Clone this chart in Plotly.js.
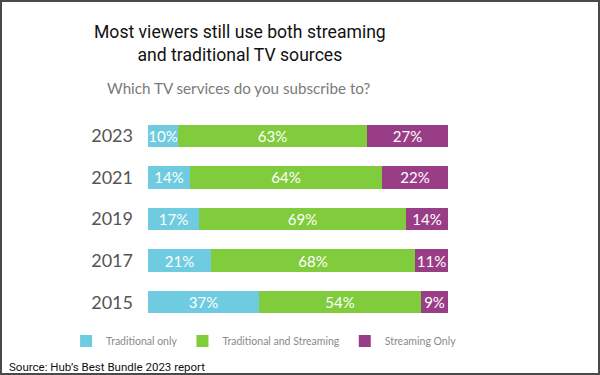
<!DOCTYPE html>
<html>
<head>
<meta charset="utf-8">
<script src="https://cdn.plot.ly/plotly-3.0.1.min.js"></script>
<style>
html,body{margin:0;padding:0;background:#fff;}
#wrap{position:relative;width:600px;height:375px;}
#chart{width:600px;height:375px;}
#frame{position:absolute;left:0;top:0;width:600px;height:375px;box-sizing:border-box;border:2px solid #4a4a4a;pointer-events:none;}
</style>
</head>
<body>
<div id="wrap"><div id="chart"></div><div id="frame"></div></div>
<script>
const years = ['2015', '2017', '2019', '2021', '2023'];
const traditionalOnly = [37, 21, 17, 14, 10];
const traditionalAndStreaming = [54, 68, 69, 64, 63];
const streamingOnly = [9, 11, 14, 22, 27];
const seriesNames = ['Traditional only', 'Traditional and Streaming', 'Streaming Only'];
const seriesColors = ['#6ecbe0', '#80cc3c', '#993e86'];

const seriesValues = [traditionalOnly, traditionalAndStreaming, streamingOnly];
const barFont = {family: 'Lato, sans-serif', size: 15, color: '#ffffff'};

const traces = seriesValues.map((vals, i) => ({
  type: 'bar',
  orientation: 'h',
  name: seriesNames[i],
  y: years,
  x: vals,
  text: vals.map(v => v + '%'),
  textposition: 'inside',
  insidetextanchor: 'middle',
  textangle: 0,
  constraintext: 'none',
  textfont: barFont,
  marker: {color: seriesColors[i], line: {width: 0}},
  hoverinfo: 'skip'
}));

const layout = {
  width: 600,
  height: 375,
  barmode: 'stack',
  bargap: 0.46,
  margin: {l: 148, r: 152, t: 115, b: 52, pad: 0, autoexpand: false},
  paper_bgcolor: '#ffffff',
  plot_bgcolor: '#ffffff',
  showlegend: true,
  legend: {
    orientation: 'h',
    x: -0.273, xanchor: 'left',
    y: -0.017, yanchor: 'top',
    font: {family: 'Lato, sans-serif', size: 10.5, color: '#8a8a8a'},
    itemwidth: 30,
    tracegroupgap: 0,
    traceorder: 'normal'
  },
  xaxis: {
    range: [0, 100],
    visible: false,
    fixedrange: true
  },
  yaxis: {
    type: 'category',
    showgrid: false,
    zeroline: false,
    showline: false,
    ticks: '',
    ticklabelstandoff: 14,
    tickfont: {family: 'Lato, sans-serif', size: 18, color: '#555555'},
    fixedrange: true
  },
  annotations: [
    {text: 'Most viewers still use both streaming<br>and traditional TV sources', xref: 'paper', yref: 'paper',
     x: 0.307, y: 1.455, xanchor: 'center', yanchor: 'top', showarrow: false, align: 'center',
     font: {family: 'Roboto, sans-serif', size: 17.6, color: '#111111'}},
    {text: 'Which TV services do you subscribe to?', xref: 'paper', yref: 'paper',
     x: 0.3, y: 1.185, xanchor: 'center', yanchor: 'top', showarrow: false,
     font: {family: 'Lato, sans-serif', size: 15.2, color: '#7a7a7a'}},
    {text: 'Source: Hub\u2019s Best Bundle 2023 report', xref: 'paper', yref: 'paper',
     x: -0.47, y: -0.168, xanchor: 'left', yanchor: 'top', showarrow: false,
     font: {family: 'Roboto, sans-serif', size: 11.5, color: '#111111'}}
  ]
};

Plotly.newPlot('chart', traces, layout, {displayModeBar: false, staticPlot: true});
</script>
</body>
</html>
